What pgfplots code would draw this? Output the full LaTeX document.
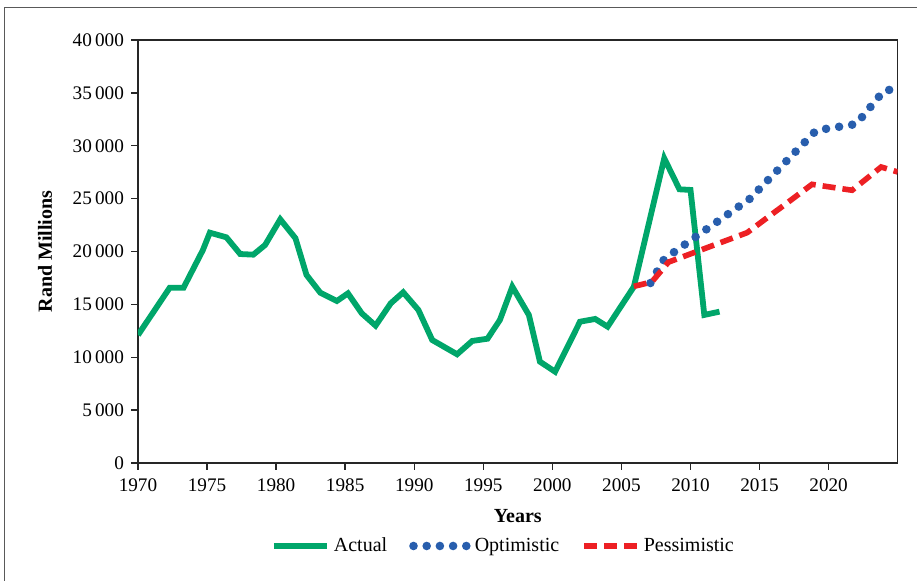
\documentclass[border=0pt]{standalone}
\usepackage{pgfplots}
\pgfplotsset{compat=1.18}
\usepackage{fontspec}
\setmainfont{Liberation Serif}
\definecolor{actgreen}{RGB}{0,166,106}
\definecolor{optblue}{RGB}{40,94,173}
\definecolor{pesred}{RGB}{237,32,36}
\begin{document}
\begin{tikzpicture}
\path[use as bounding box] (0,0) rectangle (458.5pt,290.5pt);
\draw[black!65, line width=0.75pt] (2.25pt,-10pt) rectangle (475pt,286.75pt);
\begin{axis}[
  at={(69pt,59pt)}, anchor=south west,
  scale only axis, width=379.85pt, height=211.5pt,
  xmin=1970, xmax=2025, ymin=0, ymax=40000,
  xtick={1970,1975,...,2020},
  ytick={0,5000,...,40000},
  scaled y ticks=false,
  tick align=outside, tick pos=left,
  major tick length=3.5pt,
  every tick/.style={black!85, line width=0.7pt},
  axis line style={black!85, line width=0.75pt},
  /pgf/number format/assume math mode=true,
  x tick label style={/pgf/number format/1000 sep={}, font=\fontsize{9.6pt}{11pt}\selectfont, yshift=-0.8pt},
  y tick label style={/pgf/number format/1000 sep={\,}, font=\fontsize{9.6pt}{11pt}\selectfont},
  xlabel={Years}, ylabel={Rand Millions},
  every axis x label/.style={at={(axis description cs:0.5,-0.1253)}, anchor=center, font=\fontsize{10pt}{12pt}\selectfont\bfseries},
  every axis y label/.style={at={(axis description cs:-0.1224,0.5)}, anchor=center, rotate=90, font=\fontsize{10pt}{12pt}\selectfont\bfseries},
  legend columns=3,
  legend style={at={(axis description cs:0.4824,-0.1962)}, anchor=center, draw=none, fill=none,
    font=\fontsize{10pt}{12pt}\selectfont,
    /tikz/every even column/.append style={column sep=9pt}},
  legend image code/.code={\draw[#1] (0pt,0pt) -- (26.5pt,0pt);},
]
\addplot[actgreen, line width=2.9pt] coordinates {
(1970,12100) (1972.3,16580) (1973.3,16580) (1974.7,20140) (1975.2,21780)
(1976.4,21340) (1977.4,19760) (1978.35,19700) (1979.2,20610) (1980.3,23040)
(1981.4,21250) (1982.2,17780) (1983.2,16100) (1984.4,15320) (1985.2,16040)
(1986.2,14150) (1987.2,12990) (1988.3,15100) (1989.2,16140) (1990.3,14470)
(1991.3,11630) (1993.1,10280) (1994.2,11540) (1995.3,11750) (1996.2,13520)
(1997.1,16670) (1998.3,13990) (1999.1,9580) (2000.2,8630) (2002.0,13360)
(2003.1,13620) (2004.0,12890) (2005.9,16670) (2008.1,28810) (2009.2,25880)
(2010.0,25820) (2011.0,14000) (2012.1,14310)
};
\addlegendentry{Actual}
\addplot[optblue, line width=4.3pt, line cap=round, dash pattern=on 0pt off 6.6pt] coordinates {
(2007.1,17020) (2008.1,19290) (2014.3,24990) (2019.1,31450) (2022.0,32050)
(2024.0,35200) (2025,35400)
};
\addlegendentry{Optimistic}
\addplot[pesred, line width=2.8pt, dash pattern=on 6.5pt off 3.5pt] coordinates {
(2005.9,16700) (2007.2,17120) (2008.4,18990) (2014.1,21780) (2018.8,26350)
(2021.7,25790) (2023.8,27990) (2025,27520)
};
\addlegendentry{Pessimistic}
\end{axis}
\end{tikzpicture}
\end{document}
